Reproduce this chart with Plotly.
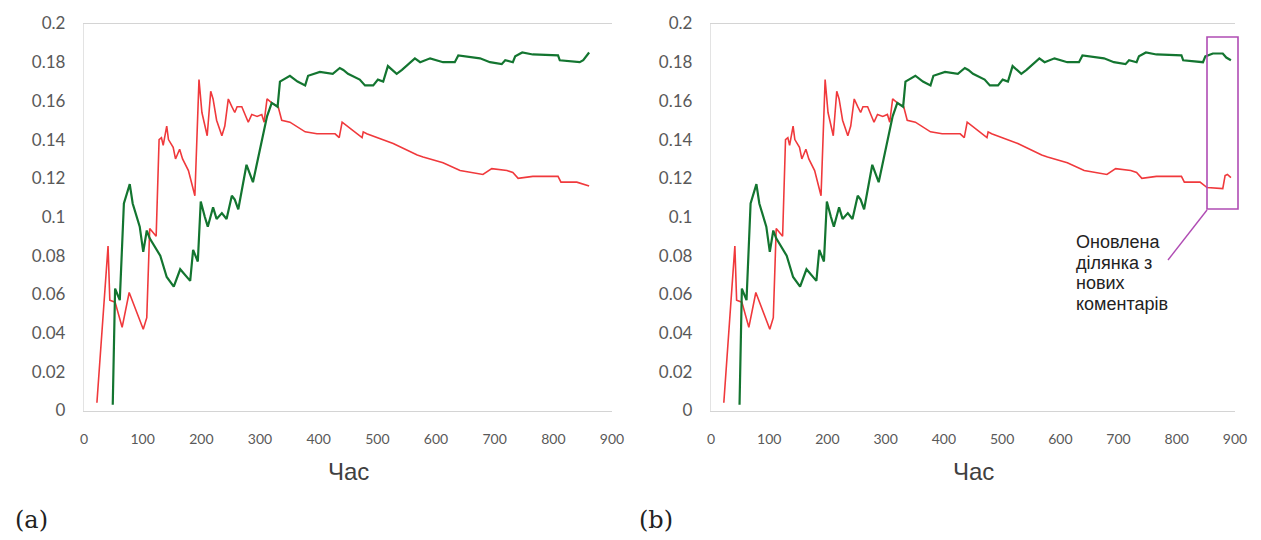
import plotly.graph_objects as go

# ---- data ----
red_x = [22, 41, 44, 53, 65, 77, 101, 107, 112, 118, 123, 128, 132, 135, 141, 144, 152, 156, 163, 168,
         178, 189, 196, 201, 206, 210, 216, 220, 226, 235, 240, 246, 252, 257, 261, 269, 280, 286, 295,
         303, 307, 312, 320, 331, 337, 351, 377, 397, 428, 435, 440, 474, 476, 482, 527, 568, 578, 612,
         641, 680, 695, 721, 731, 740, 765, 808, 813, 840]
red_y = [0.004, 0.085, 0.057, 0.056, 0.043, 0.061, 0.042, 0.048, 0.094, 0.092, 0.090, 0.140, 0.141, 0.137,
         0.147, 0.140, 0.136, 0.130, 0.135, 0.130, 0.124, 0.111, 0.171, 0.154, 0.147, 0.142, 0.165, 0.161,
         0.150, 0.142, 0.147, 0.161, 0.157, 0.154, 0.157, 0.157, 0.149, 0.153, 0.152, 0.153, 0.149, 0.161,
         0.159, 0.157, 0.150, 0.149, 0.144, 0.143, 0.143, 0.141, 0.149, 0.141, 0.144, 0.143, 0.138, 0.132,
         0.131, 0.128, 0.124, 0.122, 0.125, 0.124, 0.123, 0.120, 0.121, 0.121, 0.118, 0.118]
red_tail_a_x = [861]
red_tail_a_y = [0.116]
red_tail_b_x = [852, 879, 883, 887, 893]
red_tail_b_y = [0.1152, 0.1147, 0.1214, 0.122, 0.1204]

green_x = [49, 53, 61, 68, 78, 83, 95, 101, 107, 112, 130, 141, 153, 164, 181, 186, 194, 199, 206, 211,
           220, 226, 235, 243, 252, 257, 263, 277, 288, 306, 312, 320, 330, 334, 351, 364, 377, 382, 402,
           424, 436, 442, 450, 470, 479, 493, 501, 510, 518, 533, 542, 564, 573, 590, 612, 632, 638, 675,
           692, 712, 718, 731, 735, 747, 765, 808, 811, 845]
green_y = [0.003, 0.063, 0.057, 0.107, 0.117, 0.107, 0.095, 0.082, 0.093, 0.089, 0.080, 0.069, 0.064,
           0.073, 0.067, 0.083, 0.077, 0.108, 0.100, 0.095, 0.105, 0.099, 0.102, 0.099, 0.111, 0.109, 0.104,
           0.127, 0.118, 0.144, 0.152, 0.159, 0.157, 0.170, 0.173, 0.170, 0.168, 0.173, 0.175, 0.174, 0.177,
           0.176, 0.174, 0.171, 0.168, 0.168, 0.171, 0.170, 0.178, 0.174, 0.176, 0.182, 0.180, 0.182, 0.180,
           0.180, 0.1835, 0.182, 0.180, 0.179, 0.181, 0.180, 0.183, 0.185, 0.184, 0.1835, 0.181, 0.180]
green_tail_a_x = [851, 861]
green_tail_a_y = [0.181, 0.185]
green_tail_b_x = [849, 862, 879, 885, 893]
green_tail_b_y = [0.183, 0.1845, 0.1845, 0.1824, 0.181]

x_ticks = [0, 100, 200, 300, 400, 500, 600, 700, 800, 900]
y_ticks = [0, 0.02, 0.04, 0.06, 0.08, 0.1, 0.12, 0.14, 0.16, 0.18, 0.2]
y_tick_text = ["0", "0.02", "0.04", "0.06", "0.08", "0.1", "0.12", "0.14", "0.16", "0.18", "0.2"]
x_title = "Час"
panel_labels = ["(a)", "(b)"]
note_lines = ["Оновлена", "ділянка з", "нових", "коментарів"]

# ---- styling ----
W, H = 1261, 540
RED = "#f0393c"
GREEN = "#137530"
PURPLE = "#b04cb4"
TICK_COLOR = "#595959"


def px(x):
    return x / W


def py(y):
    return 1 - y / H


fig = go.Figure()

for axis_id, rx, ry, gx, gy in [
    ("", red_x + red_tail_a_x, red_y + red_tail_a_y, green_x + green_tail_a_x, green_y + green_tail_a_y),
    ("2", red_x + red_tail_b_x, red_y + red_tail_b_y, green_x + green_tail_b_x, green_y + green_tail_b_y),
]:
    fig.add_trace(go.Scatter(x=rx, y=ry, mode="lines", line=dict(color=RED, width=1.6),
                             xaxis="x" + axis_id, yaxis="y" + axis_id, showlegend=False))
    fig.add_trace(go.Scatter(x=gx, y=gy, mode="lines", line=dict(color=GREEN, width=2.2),
                             xaxis="x" + axis_id, yaxis="y" + axis_id, showlegend=False))

y_dom = [py(410.5), py(23.5)]
x_common = dict(range=[0, 900], tickvals=x_ticks, showgrid=False, zeroline=False,
                showline=True, mirror=True, linecolor="#d4d4d4", linewidth=1.3,
                ticks="", ticklabelstandoff=16, automargin=False,
                tickfont=dict(family="Lato", size=14, color=TICK_COLOR))
y_common = dict(range=[0, 0.2], tickvals=y_ticks, ticktext=y_tick_text, showgrid=False,
                zeroline=False, showline=True, linecolor="#e3e3e3", linewidth=1.3,
                ticks="", ticklabelstandoff=14, domain=y_dom, automargin=False,
                tickfont=dict(family="Lato", size=17, color=TICK_COLOR))

fig.update_layout(
    template="none",
    width=W, height=H,
    margin=dict(l=0, r=0, t=0, b=0, pad=0),
    paper_bgcolor="white", plot_bgcolor="white",
    showlegend=False,
    xaxis=dict(domain=[px(84), px(612)], anchor="y", **x_common),
    yaxis=dict(anchor="x", **y_common),
    xaxis2=dict(domain=[px(711), px(1235)], anchor="y2", **x_common),
    yaxis2=dict(anchor="x2", **y_common),
)

annotations = [
    dict(x=px(348), y=py(471), text=x_title, font=dict(family="Liberation Sans", size=24, color="#404040")),
    dict(x=px(973), y=py(471), text=x_title, font=dict(family="Liberation Sans", size=24, color="#404040")),
    dict(x=px(31), y=py(520), text=panel_labels[0], font=dict(family="DejaVu Serif", size=24, color="#222222")),
    dict(x=px(656), y=py(520), text=panel_labels[1], font=dict(family="DejaVu Serif", size=24, color="#222222")),
]
for i, line in enumerate(note_lines):
    annotations.append(dict(x=px(1074), y=py(242 + 20.5 * i), text=line, xanchor="left",
                            font=dict(family="Liberation Sans", size=18, color="#222222")))
for a in annotations:
    a.setdefault("xref", "paper")
    a.setdefault("yref", "paper")
    a.setdefault("showarrow", False)
    a.setdefault("yanchor", "middle")
    a.setdefault("xanchor", "center")
fig.update_layout(annotations=annotations)

# highlight box and pointer (paper coordinates, the box extends slightly beyond the plot edge)
fig.add_shape(type="rect", xref="paper", yref="paper", x0=px(1207), x1=px(1238), y0=py(209), y1=py(37),
              line=dict(color=PURPLE, width=1.6))
fig.add_shape(type="line", xref="paper", yref="paper", x0=px(1207), y0=py(210), x1=px(1168), y1=py(260),
              line=dict(color=PURPLE, width=1.4))

fig.write_html("out.html",
               config={"displayModeBar": False},
               post_script="document.body.style.margin='0';document.body.style.overflow='hidden';")
